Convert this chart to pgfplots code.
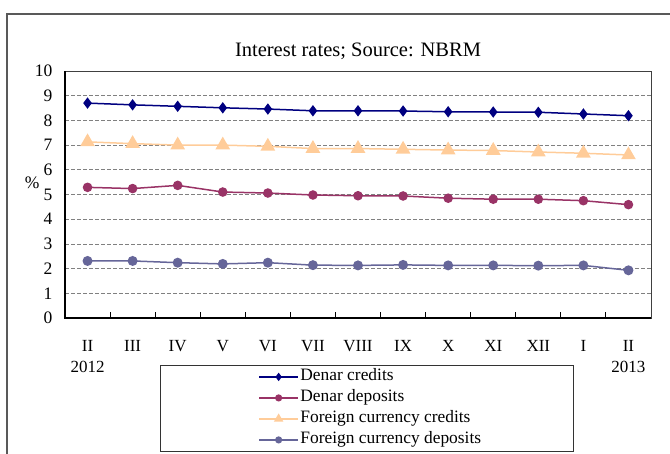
\documentclass[border=0pt]{standalone}
\usepackage{pgfplots}
\pgfplotsset{compat=1.18}
\usepackage{fontspec}
\setmainfont{Liberation Serif}
\definecolor{cNavy}{HTML}{000080}
\definecolor{cPlum}{HTML}{993366}
\definecolor{cPeach}{HTML}{FFCC99}
\definecolor{cSlate}{HTML}{666699}
\pgfplotsset{
  legimg/.style={legend image code/.code={
    \path (-96bp,0) (0,0);
    \draw[mark repeat=2,mark phase=2,##1,mark size=#1] plot coordinates {(0bp,0bp) (19.5bp,0bp) (39bp,0bp)};}}
}
\begin{document}
\begin{tikzpicture}
\useasboundingbox (0,0) rectangle (670bp,-454bp);
\draw[black!65, line width=1.2bp] (7bp,-460bp) -- (7bp,-14bp) -- (680bp,-14bp);
\begin{axis}[
  at={(65bp,-318bp)}, anchor=south west,
  width=586bp, height=247bp, scale only axis,
  xmin=-0.5, xmax=12.5, ymin=0, ymax=10,
  xtick={0,...,12},
  xticklabels={II\\2012,III,IV,V,VI,VII,VIII,IX,X,XI,XII,I,II\\2013},
  minor xtick={0.5,1.5,...,11.5},
  ytick={0,...,10},
  /pgf/number format/assume math mode=true,
  major tick length=0bp, minor tick length=6bp,
  tick align=inside, tick pos=left,
  minor tick style={black, line width=1bp},
  ymajorgrids,
  major grid style={draw=black!50, line width=0.8bp, dash pattern=on 4bp off 2bp},
  axis line style={draw=black!75, line width=0.8bp},
  xticklabel style={align=center, font=\fontsize{17bp}{21bp}\selectfont, yshift=-19bp},
  yticklabel style={font=\fontsize{17.5bp}{20bp}\selectfont, xshift=-9bp},
  ylabel={\%},
  every axis y label/.style={at={(axis description cs:-0.056,0.547)},anchor=center, font=\fontsize{17.5bp}{20bp}\selectfont},
  title={Interest rates; Source: NBRM},
  every axis title/.style={at={(axis description cs:0.5,1.081)},anchor=center, font=\fontsize{20.5bp}{24bp}\selectfont},
  legend style={at={(0.1621,-0.1903)}, anchor=north west, draw=black!80, line width=0.8bp,
    inner sep=2bp, row sep=2bp,
    nodes={inner sep=1.5bp, text height=12bp, text depth=4bp, font=\fontsize{17.4bp}{20bp}\selectfont}},
  legend cell align=left,
  clip=false,
]
\addplot[cNavy, line width=1.5bp, mark=diamond*, mark size=4.5bp, mark options={solid, fill=cNavy}, legimg=3bp]
 coordinates {(0,8.70) (1,8.63) (2,8.57) (3,8.51) (4,8.46) (5,8.39) (6,8.39) (7,8.38) (8,8.35) (9,8.34) (10,8.33) (11,8.26) (12,8.19)};
\addlegendentry{\makebox[270bp][l]{Denar credits}}
\addplot[cPlum, line width=1.5bp, mark=*, mark size=4bp, mark options={solid, fill=cPlum}, legimg=2.8bp]
 coordinates {(0,5.29) (1,5.24) (2,5.37) (3,5.10) (4,5.06) (5,4.98) (6,4.95) (7,4.94) (8,4.85) (9,4.81) (10,4.81) (11,4.75) (12,4.59)};
\addlegendentry{\makebox[270bp][l]{Denar deposits}}
\addplot[cPeach, line width=1.5bp, mark=triangle*, mark size=7bp, mark options={solid, fill=cPeach}, legimg=4bp]
 coordinates {(0,7.13) (1,7.06) (2,7.00) (3,7.00) (4,6.95) (5,6.86) (6,6.86) (7,6.83) (8,6.80) (9,6.78) (10,6.72) (11,6.67) (12,6.60)};
\addlegendentry{\makebox[270bp][l]{Foreign currency credits}}
\addplot[cSlate, line width=1.5bp, mark=*, mark size=4.2bp, mark options={solid, fill=cSlate}, legimg=2.8bp]
 coordinates {(0,2.31) (1,2.31) (2,2.24) (3,2.19) (4,2.24) (5,2.14) (6,2.13) (7,2.15) (8,2.13) (9,2.13) (10,2.12) (11,2.13) (12,1.93)};
\addlegendentry{\makebox[270bp][l]{Foreign currency deposits}}
\draw[black, line width=2bp] (rel axis cs:0,1) -- (rel axis cs:0,0) -- (rel axis cs:1,0);
\end{axis}
\end{tikzpicture}
\end{document}
